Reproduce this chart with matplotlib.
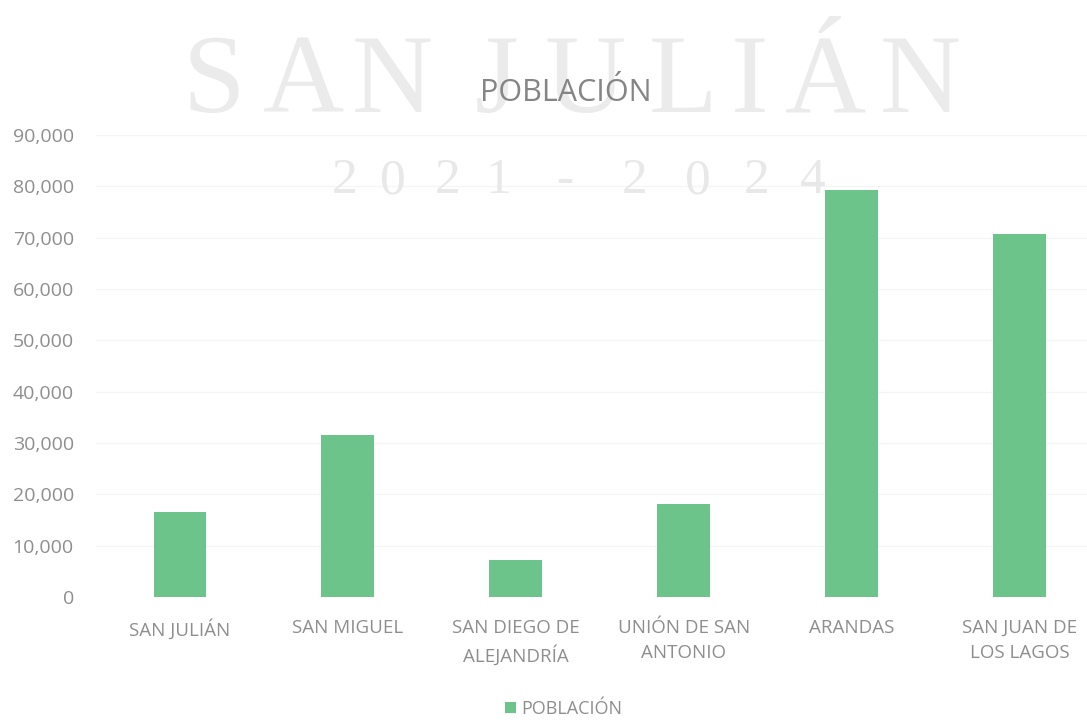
import matplotlib
matplotlib.use("Agg")
import matplotlib.pyplot as plt
import numpy as np

categories = ["SAN JULIÁN", "SAN MIGUEL", "SAN DIEGO DE\nALEJANDRÍA", "UNIÓN DE SAN\nANTONIO", "ARANDAS", "SAN JUAN DE\nLOS LAGOS"]
poblacion = [16500, 31500, 7200, 18200, 79300, 70700]
yticks = [0, 10000, 20000, 30000, 40000, 50000, 60000, 70000, 80000, 90000]
series_name = "POBLACIÓN"

BAR = "#6cc48b"
TXT = "#8e8e8e"
W, H = 1087, 722
FONT = "Open Sans"

fig = plt.figure(figsize=(W / 100, H / 100), dpi=100)
fig.patch.set_facecolor("white")

# watermark text (scanned letterhead)
wm = "SAN JULIÁN"
wm_x = [214, 303, 392, None, 497, 585, 683, 750, 825, 920]
for ch, xp in zip(wm, wm_x):
    if xp is None:
        continue
    fig.text(xp / W, 1 - 112 / H, ch, ha="center", va="baseline", fontsize=81,
             family="Liberation Serif", color="#ebebeb", zorder=0)
wm2 = "2021-2024"
wm2_x = [345, 393, 448, 498, 565, 635, 698, 757, 813]
for ch, xp in zip(wm2, wm2_x):
    fig.text(xp / W, 1 - 193 / H, ch, ha="center", va="baseline", fontsize=37,
             family="Liberation Serif", color="#e8e8e8", zorder=0)

ax = fig.add_axes([96 / W, 1 - 597 / H, (W - 96) / W, (597 - 135) / H])
ax.set_facecolor("none")
x = np.arange(len(categories))
ax.bar(x, poblacion, width=0.315, color=BAR, zorder=2, label=series_name)
ax.set_xlim(-0.5, 5.4)
ax.set_ylim(0, 90000)
ax.set_yticks(yticks)
ax.set_yticklabels([f"{v:,}" for v in yticks])
ax.set_xticks(x)
ax.set_xticklabels(categories, linespacing=1.45)
ax.grid(axis="y", color="#f5f5f5", linewidth=1, zorder=0)
for s in ax.spines.values():
    s.set_visible(False)
ax.tick_params(axis="both", length=0, colors=TXT)
for lab in ax.get_yticklabels():
    lab.set_fontsize(14)
    lab.set_family(FONT)
    lab.set_color(TXT)
for lab in ax.get_xticklabels():
    lab.set_fontsize(13.5)
    lab.set_family(FONT)
    lab.set_color(TXT)
    lab.set_verticalalignment("top")
ax.tick_params(axis="y", pad=16)
ax.tick_params(axis="x", pad=16)

fig.text(566 / W, 1 - 101 / H, "POBLACIÓN", ha="center", va="baseline",
         fontsize=22, family=FONT, color="#858585")

leg = fig.legend(handles=ax.containers[0][:1], labels=[series_name],
                 loc="center", bbox_to_anchor=(564 / W, 1 - 709 / H),
                 frameon=False, handlelength=0.6, handleheight=0.6,
                 handletextpad=0.3, borderpad=0, prop={"family": FONT, "size": 13})
for t in leg.get_texts():
    t.set_color(TXT)

fig.savefig("out.png", dpi=100)
